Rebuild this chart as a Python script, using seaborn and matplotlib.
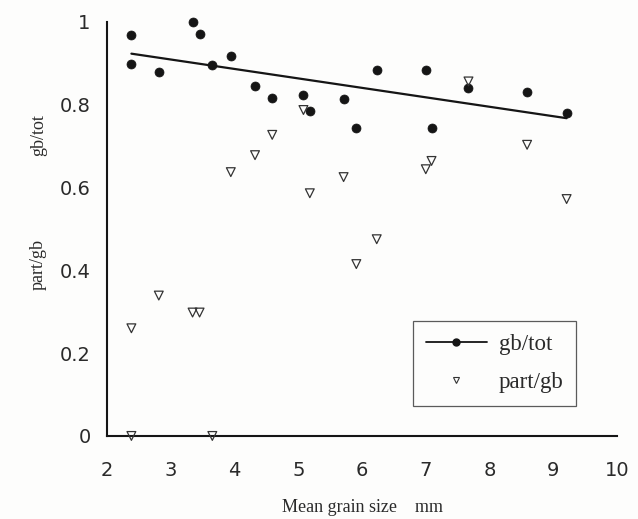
import numpy as np
import pandas as pd
import matplotlib
matplotlib.use("Agg")
import matplotlib.pyplot as plt
from matplotlib.lines import Line2D
from matplotlib.ticker import MultipleLocator
import seaborn as sns

# ---- data ----
grain_size = [2.38, 2.38, 2.81, 3.34, 3.45, 3.65, 3.94, 4.32, 4.59, 5.08,
              5.18, 5.71, 5.91, 6.23, 7.00, 7.09, 7.67, 8.59, 9.21]
gb_tot = [0.969, 0.899, 0.879, 1.000, 0.970, 0.896, 0.918, 0.845, 0.816, 0.824,
          0.785, 0.814, 0.744, 0.884, 0.884, 0.744, 0.840, 0.831, 0.780]
part_gb = [0.260, 0.000, 0.339, 0.298, 0.298, 0.000, 0.637, 0.678, 0.727, 0.787,
           0.586, 0.625, 0.415, 0.475, 0.644, 0.664, 0.856, 0.703, 0.572]
x_ticks = [2, 3, 4, 5, 6, 7, 8, 9, 10]
y_ticks = [0, 0.2, 0.4, 0.6, 0.8, 1]
y_tick_labels = ["0", "0.2", "0.4", "0.6", "0.8", "1"]

df = pd.DataFrame({"size": grain_size, "gb_tot": gb_tot, "part_gb": part_gb})

sns.set_style("white")
plt.rcParams["font.family"] = ["DejaVu Sans"]

ink = "#151515"
txt = "#2a2a2a"
bg = "#fdfdfc"
fig = plt.figure(figsize=(6.38, 5.19), dpi=100)
ax = fig.add_axes([0.168, 0.16, 0.799, 0.798])
fig.patch.set_facecolor(bg)
ax.set_facecolor(bg)

sns.regplot(data=df, x="size", y="gb_tot", scatter=False, ci=None, ax=ax,
            line_kws=dict(color=ink, lw=1.6))
sns.scatterplot(data=df, x="size", y="gb_tot", ax=ax, color=ink, s=42,
                edgecolor=ink, linewidth=0.5, zorder=3, clip_on=False)
sns.scatterplot(data=df, x="size", y="part_gb", ax=ax, marker="v", s=40,
                facecolor="none", edgecolor="#333333", linewidth=0.9,
                zorder=3, clip_on=False)

ax.set_xlim(2, 10)
ax.set_ylim(0, 1)
ax.set_xticks(x_ticks)
ax.set_xticklabels([str(t) for t in x_ticks])
ax.set_yticks(y_ticks)
ax.set_yticklabels(y_tick_labels)
ax.yaxis.set_minor_locator(MultipleLocator(0.05))

for s in ["top", "right"]:
    ax.spines[s].set_visible(False)
for s in ["left", "bottom"]:
    ax.spines[s].set_color(ink)
    ax.spines[s].set_linewidth(1.5)

ax.tick_params(axis="x", which="major", direction="in", length=9, width=1.3,
               colors=ink, labelcolor=txt, labelsize=14, pad=18)
ax.tick_params(axis="y", which="major", direction="in", length=8, width=1.3,
               colors=ink, labelcolor=txt, labelsize=14, pad=12)
ax.tick_params(axis="y", which="minor", direction="in", length=5, width=1.2,
               colors=ink)
ax.tick_params(axis="x", which="minor", bottom=False)

ax.set_xlabel("Mean grain size    mm", family=["Liberation Serif"], fontsize=13,
              color=txt, labelpad=14)
ax.set_ylabel("")
fig.text(0.06, 0.74, "gb/tot", rotation=90, ha="center", va="center",
         family=["Liberation Serif"], fontsize=13, color=txt)
fig.text(0.06, 0.49, "part/gb", rotation=90, ha="center", va="center",
         family=["Liberation Serif"], fontsize=13, color=txt)

handles = [
    Line2D([], [], color=ink, lw=1.3, marker="o", markersize=5),
    Line2D([], [], color="#333333", lw=0, marker="v", markersize=5,
           markerfacecolor="none", markeredgewidth=0.8),
]
leg = ax.legend(handles, ["gb/tot", "part/gb"], loc="center",
                bbox_to_anchor=(0.76, 0.175), frameon=True, fancybox=False,
                prop=dict(family="Liberation Serif", size=16.5),
                handlelength=2.7, borderpad=0.55, labelspacing=0.75,
                handletextpad=0.5, borderaxespad=0)
for t in leg.get_texts():
    t.set_color(txt)
leg.get_frame().set_edgecolor("#333333")
leg.get_frame().set_linewidth(0.9)
leg.get_frame().set_facecolor(bg)

fig.savefig("out.png", dpi=100, facecolor=fig.get_facecolor())
